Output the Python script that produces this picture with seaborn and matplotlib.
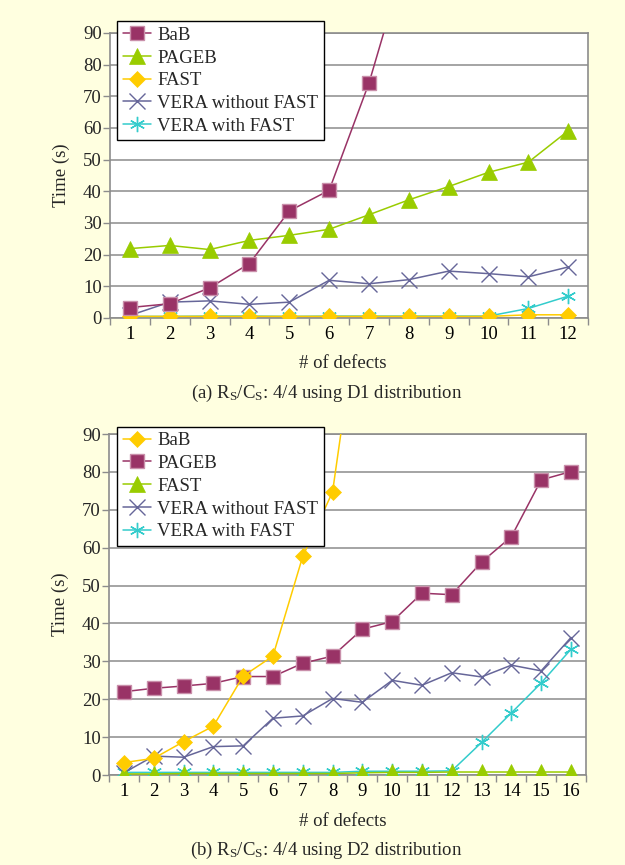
import numpy as np
import pandas as pd
import matplotlib
matplotlib.use("Agg")
import matplotlib.pyplot as plt
import seaborn as sns

sns.set_theme(style="white")
plt.rcParams['font.family'] = ['Liberation Serif', 'DejaVu Serif']
plt.rcParams['mathtext.fontset'] = 'custom'
plt.rcParams['mathtext.rm'] = 'Liberation Serif'
plt.rcParams['mathtext.it'] = 'Liberation Serif:italic'

nan = np.nan
# ---- data: panel (a) D1 distribution ----
defects_a = list(range(1, 13))
bab_a = [3.3, 4.5, 9.5, 17.2, 33.8, 40.3, 74.2, 117.0, nan, nan, nan, nan]
pageb_a = [21.9, 22.9, 21.6, 24.5, 26.1, 28.0, 32.6, 37.3, 41.5, 46.0, 49.2, 59.1]
fast_a = [0.5, 0.5, 0.5, 0.5, 0.5, 0.5, 0.5, 0.5, 0.5, 0.5, 1.0, 1.0]
vera_wo_a = [0.8, 5.0, 5.4, 4.3, 5.0, 11.9, 10.8, 12.1, 14.8, 14.0, 13.0, 16.1]
vera_w_a = [0.5, 0.5, 0.6, 0.6, 0.5, 0.6, 0.6, 0.6, 0.6, 0.6, 3.0, 6.9]

# ---- data: panel (b) D2 distribution ----
defects_b = list(range(1, 17))
bab_b = [3.3, 4.4, 8.8, 12.9, 26.1, 31.4, 57.7, 74.7, 130.0, nan, nan, nan, nan, nan, nan, nan]
pageb_b = [22.0, 22.9, 23.5, 24.2, 26.0, 26.0, 29.5, 31.4, 38.5, 40.5, 48.0, 47.6, 56.2, 62.9, 77.9, 80.1]
fast_b = [0.3, 0.3, 0.4, 0.4, 0.4, 0.4, 0.4, 0.4, 0.6, 0.7, 0.7, 0.8, 0.8, 0.8, 0.8, 0.8]
vera_wo_b = [0.6, 5.0, 4.7, 7.5, 7.7, 15.0, 15.6, 20.2, 19.2, 25.0, 23.7, 27.0, 25.9, 29.0, 27.5, 36.3]
vera_w_b = [0.7, 0.7, 0.7, 0.7, 0.7, 0.7, 0.7, 0.7, 1.0, 1.0, 1.0, 1.1, 8.6, 16.4, 24.3, 33.2]

labels = ["BaB", "PAGEB", "FAST", "VERA without FAST", "VERA with FAST"]
y_ticks = [0, 10, 20, 30, 40, 50, 60, 70, 80, 90]
captions = [r"(a) R$_\mathrm{S}$/C$_\mathrm{S}$: 4/4 using D1 distribution",
            r"(b) R$_\mathrm{S}$/C$_\mathrm{S}$: 4/4 using D2 distribution"]

MAROON = "#993366"
GREEN = "#99CC00"
GOLD = "#FFCC00"
PURPLE = "#666699"
CYAN = "#33CCCC"

sq = dict(marker="s", color=MAROON, ms=10, mec="#C98FAA", mew=1.0)
tri = dict(marker="^", color=GREEN, ms=11, mec=GREEN, mew=0.5)
dia = dict(marker="D", color=GOLD, ms=8, mec=GOLD, mew=0.5)
xx = dict(marker="x", color=PURPLE, ms=11, mec=PURPLE, mew=1.0)
star = dict(marker=(6, 2, 0), color=CYAN, ms=11, mec=CYAN, mew=1.0)

panels = [
    dict(x=defects_a, series=[bab_a, pageb_a, fast_a, vera_wo_a, vera_w_a],
         styles=[sq, tri, dia, xx, star],
         rect=[0.176, 0.6324, 0.765, 0.3295], leg=(0.1872, 0.9757),
         xlab_y=364, cap_y=393),
    dict(x=defects_b, series=[bab_b, pageb_b, fast_b, vera_wo_b, vera_w_b],
         styles=[dia, sq, tri, xx, star],
         rect=[0.1744, 0.104, 0.763, 0.3942], leg=(0.1872, 0.5069),
         xlab_y=822, cap_y=850),
]

W, H = 625, 865
fig = plt.figure(figsize=(W / 100, H / 100), dpi=100)
fig.patch.set_facecolor("#FFFFE0")

FS = 13.5
GRID = "#8C8C8C"

for p in panels:
    ax = fig.add_axes(p["rect"])
    ax.set_facecolor("white")
    x = p["x"]
    for i in range(5):
        st = p["styles"][i]
        df = pd.DataFrame({"x": x, "y": p["series"][i]})
        sns.lineplot(data=df, x="x", y="y", ax=ax, color=st["color"], lw=1.1,
                     marker=st["marker"], markersize=st["ms"],
                     markeredgecolor=st["mec"], markeredgewidth=st["mew"],
                     label=labels[i], legend=False, zorder=3 + (4 - i) * 0.1)
    lines = ax.get_lines()
    n = len(x)
    ax.set_xlim(0.5, n + 0.5)
    ax.set_ylim(0, 90)
    ax.set_yticks(y_ticks)
    ax.set_yticklabels([str(v) for v in y_ticks], fontsize=FS)
    ax.set_xticks(x)
    ax.set_xticklabels([str(v) for v in x], fontsize=FS)
    ax.set_xticks([v + 0.5 for v in range(0, n + 1)], minor=True)
    ax.tick_params(axis="x", which="major", length=0, pad=6, colors="black")
    ax.tick_params(axis="x", which="minor", length=5, width=1, color=GRID, direction="out", bottom=True)
    ax.tick_params(axis="y", which="major", length=5, width=1, color=GRID, direction="out", left=True, pad=1)
    for s in ax.spines.values():
        s.set_color(GRID)
        s.set_linewidth(1.2)
    ax.grid(axis="y", color=GRID, lw=1.1)
    ax.set_axisbelow(True)
    ax.set_xlabel("")
    ax.set_ylabel("Time (s)", fontsize=FS)
    ax.yaxis.set_label_coords(-0.083, 0.5)
    fig.text(0.549, 1 - p["xlab_y"] / H, "# of defects", ha="center", va="center", fontsize=FS)
    leg = ax.legend(handles=lines[:5], labels=labels, loc="upper left",
                    bbox_to_anchor=p["leg"], bbox_transform=fig.transFigure,
                    fontsize=FS, frameon=True, fancybox=False, framealpha=1,
                    edgecolor="black", borderpad=0.3, labelspacing=0.3,
                    handlelength=1.5, handletextpad=0.35, borderaxespad=0)
    leg.get_frame().set_linewidth(1.0)
    leg.set_zorder(10)

for p, cap in zip(panels, captions):
    fig.text(0.522, 1 - p["cap_y"] / H, cap, ha="center", va="center", fontsize=FS)

fig.savefig("out.png", dpi=100, facecolor=fig.get_facecolor())
